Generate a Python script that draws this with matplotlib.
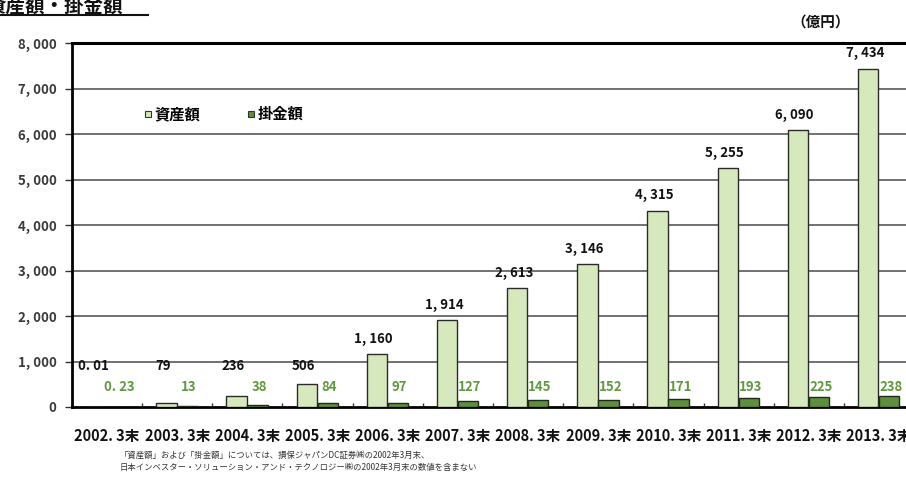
import matplotlib
matplotlib.use("Agg")
import matplotlib.pyplot as plt
from matplotlib.lines import Line2D
from matplotlib.ticker import FixedLocator, FuncFormatter
import numpy as np

plt.rcParams['font.family'] = ['Noto Sans CJK JP', 'DejaVu Sans']

# data (億円)
categories = ["2002. 3末", "2003. 3末", "2004. 3末", "2005. 3末", "2006. 3末", "2007. 3末",
              "2008. 3末", "2009. 3末", "2010. 3末", "2011. 3末", "2012. 3末", "2013. 3末"]
assets = [0.01, 79, 236, 506, 1160, 1914, 2613, 3146, 4315, 5255, 6090, 7434]
contributions = [0.23, 13, 38, 84, 97, 127, 145, 152, 171, 193, 225, 238]

light_fill = "#d6e9bd"
dark_fill = "#5e8f3f"
green_text = "#5f9a3e"


def fmt_val(v):
    if v < 1:
        return f"{v:.2f}".replace(".", ". ")
    return f"{v:,.0f}".replace(",", ", ")


fig = plt.figure(figsize=(9.06, 4.78), dpi=100)
W, H = 906, 478
ax_left, ax_right, ax_top, ax_bottom = 72, 914, 43, 407
ax = fig.add_axes([ax_left / W, 1 - ax_bottom / H, (ax_right - ax_left) / W, (ax_bottom - ax_top) / H])

x = np.arange(len(categories))
bw = 0.29
ax.bar(x - 0.155, assets, width=bw, color=light_fill, edgecolor="#2a2a2a", linewidth=1.0, zorder=3)
ax.bar(x + 0.145, contributions, width=bw, color=dark_fill, edgecolor="#1f2a18", linewidth=1.0, zorder=3)

ax.set_xlim(-0.5, len(categories) - 0.5)
ax.set_ylim(0, 8000)

# grid lines
ax.yaxis.set_major_locator(FixedLocator(np.arange(0, 8001, 1000)))
for yv in range(1000, 8000, 1000):
    ax.axhline(yv, color="#4a4a4a", linewidth=1.1, zorder=1)

ax.yaxis.set_major_formatter(FuncFormatter(lambda v, p: "0" if v == 0 else f"{v:,.0f}".replace(",", ", ")))
ax.tick_params(axis="y", direction="out", length=5, width=1, color="#333333", labelsize=9.5,
               labelcolor="#3a3a3a", pad=6)
for lbl in ax.get_yticklabels():
    lbl.set_fontweight("bold")

ax.set_xticks(x)
ax.set_xticklabels(categories, fontsize=10.5, fontweight="bold", color="#111111")
ax.tick_params(axis="x", length=0, pad=15)
ax.set_xticks(np.arange(-0.5, len(categories), 1.0), minor=True)
ax.tick_params(axis="x", which="minor", direction="in", length=3, width=1, color="#333333")

for side in ["left", "top", "bottom"]:
    ax.spines[side].set_color("black")
ax.spines["left"].set_linewidth(2.0)
ax.spines["top"].set_linewidth(2.2)
ax.spines["bottom"].set_linewidth(2.0)
ax.spines["right"].set_visible(False)

# value labels
for i, v in enumerate(assets):
    ax.annotate(fmt_val(v), (x[i] - 0.2, max(v, 560)), xytext=(0, 6), textcoords="offset points",
                ha="center", va="bottom", fontsize=9.5, fontweight="bold", color="#111111", zorder=4)
for i, v in enumerate(contributions):
    ax.annotate(fmt_val(v), (x[i] + 0.17, 430), ha="center", va="center",
                fontsize=9.5, fontweight="bold", color=green_text, zorder=4)

# legend
handles = [Line2D([], [], marker="s", linestyle="none", markersize=5, markerfacecolor=light_fill,
                  markeredgecolor="#333333", markeredgewidth=0.8),
           Line2D([], [], marker="s", linestyle="none", markersize=5, markerfacecolor=dark_fill,
                  markeredgecolor="#333333", markeredgewidth=0.8)]
leg = ax.legend(handles, ["資産額", "掛金額"], ncol=2, loc="center left", bbox_to_anchor=(0.068, 0.805),
                frameon=False, handlelength=0.6, handletextpad=0.15, columnspacing=3.0,
                prop={"size": 11, "weight": "bold"})

# title, unit and notes
fig.text(-14 / W, 1 - 12 / H, "資産額・掛金額", fontsize=14, fontweight="bold", color="#111111",
         ha="left", va="baseline")
fig.add_artist(Line2D([0, 148 / W], [1 - 15 / H, 1 - 15 / H], color="#111111", linewidth=1.5))
fig.text(850 / W, 1 - 22 / H, "（億円）", fontsize=10.5, fontweight="bold", color="#111111",
         ha="right", va="center")
fig.text(120 / W, 1 - 455 / H, "「資産額」および「掛金額」については、損保ジャパンDC証券㈱の2002年3月末、",
         fontsize=6, color="#333333", ha="left", va="center")
fig.text(120 / W, 1 - 467 / H, "日本インベスター・ソリューション・アンド・テクノロジー㈱の2002年3月末の数値を含まない",
         fontsize=6, color="#333333", ha="left", va="center")

fig.savefig("out.png", dpi=100)
